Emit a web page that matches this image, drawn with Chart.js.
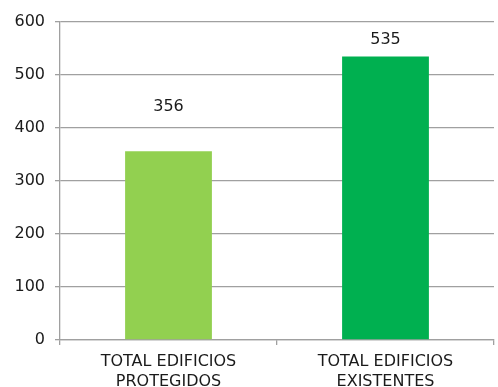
<!DOCTYPE html>
<html>
<head>
<meta charset="utf-8">
<script src="https://cdn.jsdelivr.net/npm/chart.js@4/dist/chart.umd.min.js"></script>
<style>
html,body{margin:0;padding:0;background:#fff;}
#wrap{width:498px;height:387px;}
</style>
</head>
<body>
<div id="wrap"><canvas id="c" width="498" height="387"></canvas></div>
<script>
const categories = [["TOTAL EDIFICIOS","PROTEGIDOS"],["TOTAL EDIFICIOS","EXISTENTES"]];
const values = [356, 535];
const barColors = ["#92d050", "#00b050"];
const yTicks = [0, 100, 200, 300, 400, 500, 600];

const labelOffsets = [44, 17];
const valueLabels = {
  id: 'valueLabels',
  afterDatasetsDraw(chart) {
    const ctx = chart.ctx;
    const meta = chart.getDatasetMeta(0);
    ctx.save();
    ctx.font = '16px "DejaVu Sans"';
    ctx.fillStyle = '#1a1a1a';
    ctx.textAlign = 'center';
    ctx.textBaseline = 'middle';
    meta.data.forEach((bar, i) => {
      ctx.fillText(String(values[i]), bar.x, bar.y - labelOffsets[i]);
    });
    ctx.restore();
  }
};

new Chart(document.getElementById('c'), {
  type: 'bar',
  data: {
    labels: categories,
    datasets: [{
      data: values,
      backgroundColor: barColors,
      borderWidth: 0,
      barPercentage: 0.4,
      categoryPercentage: 1.0
    }]
  },
  options: {
    responsive: false,
    animation: false,
    events: [],
    layout: { padding: { top: 22, right: 4, left: 0, bottom: 0 } },
    plugins: { legend: { display: false }, tooltip: { enabled: false } },
    scales: {
      x: {
        offset: true,
        grid: { display: true, drawOnChartArea: false, drawTicks: true, tickLength: 5, color: '#a0a0a0', lineWidth: 1.3, offset: true },
        border: { display: true, color: '#a0a0a0', width: 1.3 },
        ticks: { color: '#1a1a1a', font: { family: 'DejaVu Sans', size: 16, lineHeight: 1.25 }, padding: 7, maxRotation: 0, autoSkip: false },
        afterFit(scale) { scale.height = 47; }
      },
      y: {
        min: 0, max: 600,
        afterBuildTicks(scale) { scale.ticks = yTicks.map(v => ({ value: v })); },
        grid: { color: '#a0a0a0', lineWidth: 1.3, drawTicks: true, tickLength: 5 },
        border: { display: true, color: '#a0a0a0', width: 1.3 },
        ticks: { color: '#1a1a1a', font: { family: 'DejaVu Sans', size: 16 }, padding: 10 },
        afterFit(scale) { scale.width = 60; }
      }
    }
  },
  plugins: [valueLabels]
});
</script>
</body>
</html>
